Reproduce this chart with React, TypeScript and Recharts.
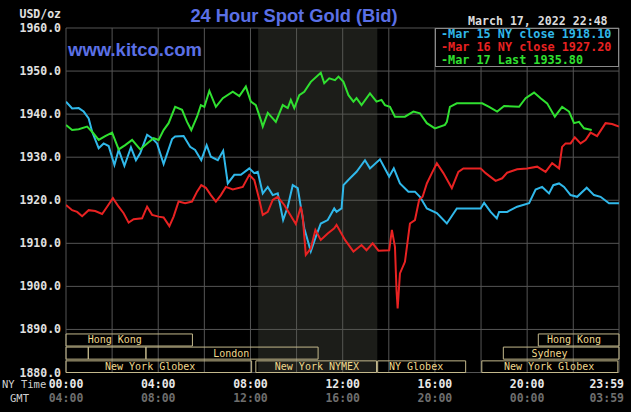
import React from "react";
import {
  LineChart,
  Line,
  XAxis,
  YAxis,
  CartesianGrid,
  ReferenceArea,
  ReferenceDot,
  Legend,
} from "recharts";

// [minutes after NY midnight, price]
const mar15: [number, number][] = [
  [0, 1942.9], [16, 1941.3], [33, 1941.4], [46, 1940.6], [59, 1939.0], [68, 1935.9], [85, 1932.1],
  [98, 1933.2], [111, 1932.6], [126, 1928.2], [137, 1931.7], [152, 1928.0], [169, 1932.3], [182, 1929.3],
  [193, 1930.9], [211, 1935.2], [224, 1934.4], [237, 1933.2], [254, 1928.4], [276, 1934.2], [284, 1934.8],
  [306, 1934.9], [323, 1932.4], [336, 1931.7], [352, 1929.3], [366, 1932.8], [377, 1930.1], [395, 1929.3],
  [409, 1931.5], [421, 1923.9], [438, 1925.9], [455, 1925.9], [477, 1927.4], [490, 1926.3], [499, 1926.6],
  [512, 1921.6], [525, 1923.1], [538, 1921.2], [551, 1921.6], [565, 1915.4], [577, 1918.5], [590, 1923.5],
  [603, 1922.8], [611, 1918.5], [620, 1913.5], [637, 1908.1], [650, 1911.5], [663, 1914.6], [681, 1915.4],
  [698, 1918.1], [704, 1917.3], [717, 1918.1], [722, 1923.5], [739, 1925.1], [756, 1926.6], [778, 1929.3],
  [791, 1927.4], [817, 1929.5], [841, 1925.5], [853, 1927.4], [869, 1923.9], [891, 1922.0], [908, 1922.0],
  [921, 1920.8], [939, 1918.1], [965, 1917.0], [991, 1914.6], [1017, 1918.1], [1051, 1918.1], [1079, 1918.1],
  [1088, 1919.4], [1105, 1917.3], [1121, 1915.8], [1127, 1917.3], [1148, 1917.3], [1174, 1918.5],
  [1205, 1919.3], [1222, 1922.5], [1239, 1923.1], [1257, 1921.6], [1268, 1923.5], [1283, 1923.9],
  [1296, 1923.1], [1313, 1921.2], [1330, 1920.8], [1355, 1922.9], [1374, 1921.2], [1391, 1920.8],
  [1413, 1919.3], [1439, 1919.3],
];

const mar16: [number, number][] = [
  [0, 1918.9], [16, 1917.7], [29, 1917.3], [42, 1916.3], [59, 1917.7], [76, 1917.5], [94, 1916.8],
  [107, 1918.5], [122, 1920.5], [137, 1918.5], [150, 1917.0], [163, 1914.8], [176, 1915.6], [198, 1915.8],
  [211, 1918.5], [224, 1916.6], [241, 1916.2], [254, 1916.0], [269, 1914.0], [280, 1916.2], [293, 1919.7],
  [310, 1919.3], [328, 1919.7], [341, 1922.0], [352, 1923.5], [364, 1922.9], [377, 1921.2], [390, 1919.7],
  [403, 1921.2], [416, 1923.1], [434, 1922.5], [460, 1923.1], [477, 1925.9], [490, 1924.7], [503, 1920.1],
  [512, 1916.6], [525, 1917.3], [538, 1920.1], [551, 1920.8], [568, 1918.9], [581, 1917.0], [598, 1914.5],
  [611, 1918.5], [616, 1916.2], [624, 1907.3], [637, 1908.8], [649, 1913.1], [663, 1910.8], [681, 1912.3],
  [698, 1913.5], [704, 1914.3], [726, 1910.8], [748, 1908.1], [769, 1909.6], [782, 1908.4], [798, 1910.0],
  [813, 1908.3], [841, 1908.4], [848, 1913.1], [856, 1909.2], [860, 1899.2], [863, 1894.9], [869, 1903.0],
  [882, 1905.7], [895, 1914.6], [908, 1915.4], [919, 1920.1], [928, 1920.8], [939, 1923.9], [952, 1926.3],
  [965, 1928.6], [982, 1926.3], [1004, 1922.8], [1021, 1926.6], [1034, 1927.4], [1079, 1927.4],
  [1092, 1926.3], [1118, 1924.5], [1135, 1925.1], [1148, 1926.4], [1174, 1927.2], [1200, 1927.4],
  [1226, 1927.8], [1248, 1926.6], [1265, 1928.6], [1283, 1927.4], [1291, 1932.4], [1300, 1933.2],
  [1313, 1933.2], [1324, 1934.6], [1339, 1933.2], [1352, 1934.0], [1365, 1935.7], [1382, 1934.9],
  [1404, 1937.9], [1421, 1937.7], [1439, 1937.1],
];

const mar17: [number, number][] = [
  [0, 1937.5], [16, 1936.3], [33, 1936.5], [55, 1937.1], [68, 1935.9], [85, 1934.0], [102, 1934.9],
  [120, 1935.7], [137, 1931.8], [154, 1932.8], [172, 1934.0], [193, 1931.8], [211, 1933.2], [228, 1934.4],
  [241, 1934.0], [254, 1936.3], [267, 1937.9], [284, 1941.7], [302, 1941.0], [315, 1938.2], [326, 1936.3],
  [341, 1939.4], [351, 1942.1], [360, 1941.7], [373, 1945.4], [390, 1941.7], [408, 1943.7], [434, 1945.2],
  [451, 1944.2], [468, 1946.4], [481, 1942.9], [494, 1942.1], [507, 1938.6], [512, 1937.1], [525, 1940.3],
  [538, 1939.0], [546, 1938.2], [564, 1942.1], [577, 1941.4], [585, 1943.3], [594, 1941.4], [607, 1944.4],
  [620, 1945.2], [637, 1947.5], [663, 1949.6], [672, 1947.2], [685, 1948.3], [700, 1947.9], [709, 1948.7],
  [722, 1947.5], [735, 1944.4], [748, 1942.9], [756, 1943.7], [769, 1942.1], [791, 1944.8], [808, 1942.9],
  [821, 1943.3], [830, 1942.1], [843, 1941.7], [856, 1939.4], [882, 1939.4], [904, 1940.6], [921, 1940.2],
  [939, 1937.9], [960, 1936.7], [986, 1937.5], [991, 1938.2], [999, 1941.7], [1017, 1942.5],
  [1083, 1942.5], [1101, 1941.7], [1122, 1940.6], [1140, 1941.9], [1179, 1941.7], [1196, 1943.7],
  [1218, 1945.0], [1235, 1943.7], [1252, 1942.5], [1272, 1939.4], [1291, 1941.7], [1309, 1940.6],
  [1322, 1937.9], [1335, 1938.2], [1348, 1936.7], [1368, 1936.3],
];

const seriesLabels = ["Mar 15 NY close", "Mar 16 NY close", "Mar 17 Last"];
const seriesValues = ["1918.10", "1927.20", "1935.80"];
const seriesColors = ["#30b8ea", "#e82222", "#30e030"];

const yTicks = [1880, 1890, 1900, 1910, 1920, 1930, 1940, 1950, 1960];
const xTicks = [0, 120, 240, 360, 480, 600, 720, 840, 960, 1080, 1200, 1320, 1439];
const nyLabels: Record<number, string> = { 0: "00:00", 240: "04:00", 480: "08:00", 720: "12:00", 960: "16:00", 1200: "20:00", 1439: "23:59" };
const gmtLabels: Record<number, string> = { 0: "04:00", 240: "08:00", 480: "12:00", 720: "16:00", 960: "20:00", 1200: "00:00", 1439: "03:59" };

// NYMEX pit session shading (minutes)
const pitSession = [500, 810];

// session boxes: name, row, start, end, label position (minutes)
const sessionNames = ["Hong Kong", "", "", "London", "New York Globex", "New York NYMEX", "NY Globex", "New York Globex", "Sydney", "Hong Kong"];
const sessionRows = [0, 1, 1, 1, 2, 2, 2, 2, 1, 0];
const sessionStart = [0, 0, 58, 208, 0, 494, 811, 1082, 1138, 1229];
const sessionEnd = [329, 58, 208, 656, 483, 808, 1040, 1436, 1439, 1439];
const sessionLabelAt = [127, 0, 0, 430, 219, 653, 911, 1257, 1258, 1322];
const rowBands: [number, number][] = [[1886.15, 1888.95], [1883.1, 1885.9], [1880.0, 1882.7]];

const toData = (arr: [number, number][]) => arr.map(([t, v]) => ({ t, v }));

const MONO = "'DejaVu Sans Mono', monospace";
const SANS = "'Liberation Sans', Arial, sans-serif";

const XTick = (props: any) => {
  const { x, payload } = props;
  const v = payload.value;
  if (!(v in nyLabels)) return null;
  const last = v === 1439;
  const anchor = last ? "end" : "middle";
  const tx = last ? x + 5 : x;
  return (
    <g>
      {v === 0 && (
        <>
          <text x={2} y={388} fill="#d0d0d0" fontFamily={MONO} fontSize={10.5}>NY Time</text>
          <text x={10} y={402} fill="#d0d0d0" fontFamily={MONO} fontSize={10.5}>GMT</text>
        </>
      )}
      <text x={tx} y={388} textAnchor={anchor} fill="#e8e8e8" fontFamily={MONO} fontWeight="bold" fontSize={11.5}>{nyLabels[v]}</text>
      <text x={tx} y={402} textAnchor={anchor} fill="#6e6e6e" fontFamily={MONO} fontWeight="bold" fontSize={11.5}>{gmtLabels[v]}</text>
    </g>
  );
};

const YTick = (props: any) => {
  const { y, payload } = props;
  return (
    <text x={61} y={y} dy="0.35em" textAnchor="end" fill="#e0e0e0" fontFamily={MONO} fontWeight="bold" fontSize={11.5}>
      {Number(payload.value).toFixed(1)}
    </text>
  );
};

const LegendBox = (props: any) => {
  const payload = props.payload || [];
  return (
    <div style={{ width: 182, height: 37, border: "1px solid #8a8a8a", background: "#000", boxSizing: "content-box" }}>
      <div style={{ marginTop: -1, paddingLeft: 5 }}>
        {payload.map((p: any, i: number) => (
          <div key={i} style={{ color: p.color, fontFamily: MONO, fontWeight: "bold", fontSize: 11.8, lineHeight: "13px", whiteSpace: "pre" }}>
            {"-" + p.value}
          </div>
        ))}
      </div>
    </div>
  );
};

export default function App() {
  const series = [mar15, mar16, mar17];
  return (
    <div style={{ position: "absolute", left: 0, top: 0, width: 631, height: 412, background: "#000", overflow: "hidden" }}>
      <LineChart width={631} height={412} margin={{ top: 28, right: 12, bottom: 10, left: 0 }}>
        <CartesianGrid stroke="#555555" strokeWidth={1} />
        <ReferenceArea x1={pitSession[0]} x2={pitSession[1]} y1={1880} y2={1960} fill="#54574b" fillOpacity={0.33} stroke="none" ifOverflow="hidden" />
        <XAxis
          dataKey="t"
          type="number"
          domain={[0, 1439]}
          ticks={xTicks}
          interval={0}
          tickLine={false}
          axisLine={false}
          height={29.5}
          tick={<XTick />}
          allowDataOverflow
        />
        <YAxis
          type="number"
          domain={[1880, 1960]}
          ticks={yTicks}
          interval={0}
          tickLine={false}
          axisLine={false}
          width={66}
          tick={<YTick />}
          allowDataOverflow
        />
        {sessionNames.map((n, i) => (
          <ReferenceArea
            key={"s" + i}
            x1={sessionStart[i]}
            x2={sessionEnd[i]}
            y1={rowBands[sessionRows[i]][0]}
            y2={rowBands[sessionRows[i]][1]}
            fill="none"
            fillOpacity={0}
            stroke="#c4b98c"
            strokeWidth={1}
          />
        ))}
        {sessionNames.map((n, i) =>
          n ? (
            <ReferenceDot
              key={"l" + i}
              x={sessionLabelAt[i]}
              y={(rowBands[sessionRows[i]][0] + rowBands[sessionRows[i]][1]) / 2}
              r={0}
              shape={(p: any) => (
                <text x={p.cx} y={p.cy} dy="0.35em" textAnchor="middle" fill="#f0d88c" fontFamily={MONO} fontSize={10}>
                  {n}
                </text>
              )}
            />
          ) : null
        )}
        {series.map((s, i) => (
          <Line
            key={i}
            data={toData(s)}
            dataKey="v"
            name={`${seriesLabels[i]} ${seriesValues[i]}`}
            type="linear"
            stroke={seriesColors[i]}
            strokeWidth={2}
            dot={false}
            isAnimationActive={false}
          />
        ))}
        <Legend
          layout="vertical"
          align="center"
          verticalAlign="middle"
          content={<LegendBox />}
          wrapperStyle={{ position: "absolute", left: 435, top: 28, width: 184, height: 39 }}
        />
      </LineChart>
      <svg width={631} height={412} style={{ position: "absolute", left: 0, top: 0, pointerEvents: "none" }}>
        <text x={294} y={22} textAnchor="middle" fill="#5b70e6" fontFamily={SANS} fontWeight="bold" fontSize={18.3}>
          24 Hour Spot Gold (Bid)
        </text>
        <text x={68} y={55.5} fill="#5b70e6" fontFamily={SANS} fontWeight="bold" fontSize={18.5}>
          www.kitco.com
        </text>
        <text x={468} y={25} fill="#dcdcdc" fontFamily={MONO} fontWeight="bold" fontSize={11.6}>
          March 17, 2022 22:48
        </text>
        <text x={61} y={18} textAnchor="end" fill="#e0e0e0" fontFamily={MONO} fontWeight="bold" fontSize={11.5}>
          USD/oz
        </text>
      </svg>
    </div>
  );
}
